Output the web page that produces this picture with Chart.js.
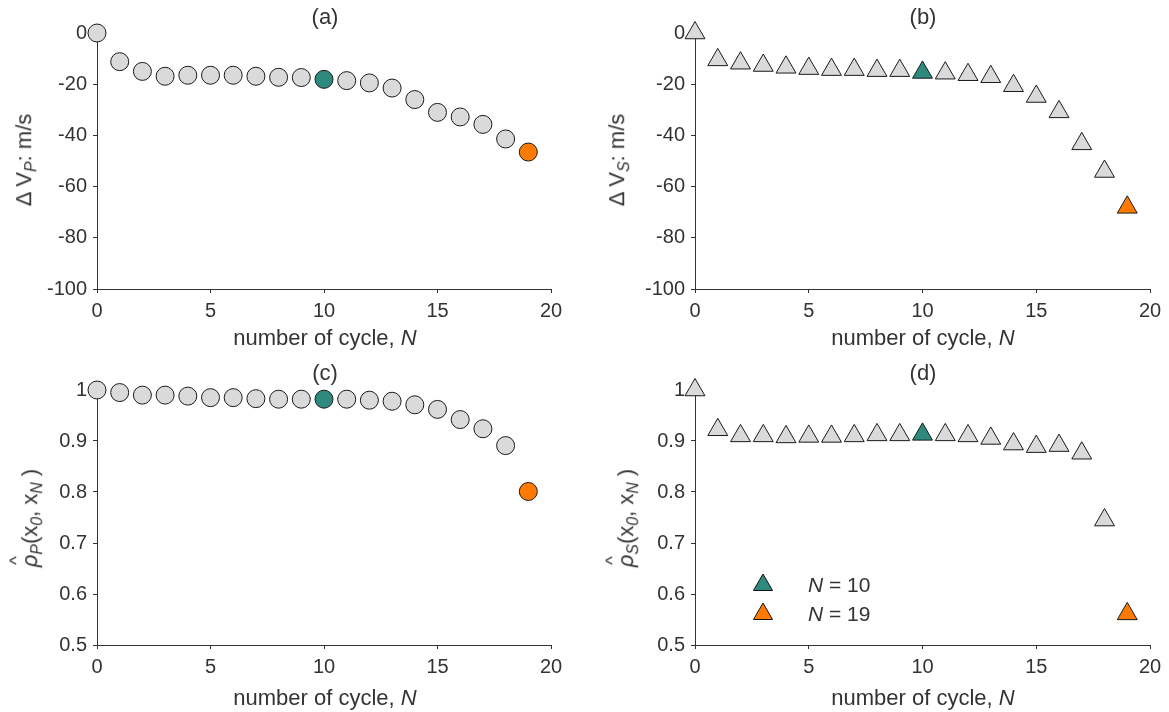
<!DOCTYPE html>
<html>
<head>
<meta charset="utf-8">
<script src="https://cdn.jsdelivr.net/npm/chart.js@4.4.1/dist/chart.umd.min.js"></script>
<style>
  body { margin: 0; background: #fff; }
  #wrap { position: relative; width: 1169px; height: 712px; background: #fff; overflow: hidden;
          font-family: "Liberation Sans", Arial, sans-serif; color: #333; }
  .panel { position: absolute; }
  .txt { position: absolute; white-space: nowrap; transform: translate(-50%, -50%); font-size: 22px; line-height: 1; }
  .ytitle { position: absolute; white-space: nowrap; transform: translate(-50%, -50%) rotate(-90deg); font-size: 22px; line-height: 1; }
  sub { font-size: 0.72em; vertical-align: -0.3em; }
  .rho { position: relative; display: inline-block; font-style: italic; }
  .rho .hat { position: absolute; left: 0.12em; top: -0.62em; font-style: normal; font-size: 0.85em; }
</style>
</head>
<body>
<div id="wrap">
  <div class="panel" style="left:0;top:0"><canvas id="chartA" width="580" height="355"></canvas></div>
  <div class="panel" style="left:580px;top:0"><canvas id="chartB" width="589" height="355"></canvas></div>
  <div class="panel" style="left:0;top:355px"><canvas id="chartC" width="580" height="357"></canvas></div>
  <div class="panel" style="left:580px;top:355px"><canvas id="chartD" width="589" height="357"></canvas></div>

  <div class="txt" style="left:325px;top:17px">(a)</div>
  <div class="txt" style="left:923px;top:17px">(b)</div>
  <div class="txt" style="left:325px;top:373px">(c)</div>
  <div class="txt" style="left:923px;top:373px">(d)</div>

  <div class="txt" style="left:325px;top:338px">number of cycle, <i>N</i></div>
  <div class="txt" style="left:923px;top:338px">number of cycle, <i>N</i></div>
  <div class="txt" style="left:325px;top:698px">number of cycle, <i>N</i></div>
  <div class="txt" style="left:923px;top:698px">number of cycle, <i>N</i></div>

  <div class="ytitle" style="left:26px;top:160px">Δ V<sub><i>P</i></sub>: m/s</div>
  <div class="ytitle" style="left:619px;top:160px">Δ V<sub><i>S</i></sub>: m/s</div>
  <div class="ytitle" style="left:32px;top:518px"><span class="rho">ρ<span class="hat">^</span></span><sub><i>P</i></sub>(x<sub><i>0</i></sub>, x<sub><i>N</i></sub> )</div>
  <div class="ytitle" style="left:628px;top:518px"><span class="rho">ρ<span class="hat">^</span></span><sub><i>S</i></sub>(x<sub><i>0</i></sub>, x<sub><i>N</i></sub> )</div>
</div>

<script>
// number of cycle N
const cycles = [0, 1, 2, 3, 4, 5, 6, 7, 8, 9, 10, 11, 12, 13, 14, 15, 16, 17, 18, 19];

// (a) change of P-wave velocity, m/s
const dVp = [0, -11.2, -15.0, -16.9, -16.5, -16.5, -16.5, -16.9, -17.3, -17.4,
             -18.1, -18.6, -19.5, -21.5, -26.0, -31.0, -32.8, -35.7, -41.4, -46.5];
// (b) change of S-wave velocity, m/s
const dVs = [0, -10.5, -11.8, -12.7, -13.4, -13.9, -14.3, -14.3, -14.7, -14.7,
             -15.4, -15.7, -16.3, -17.1, -20.6, -24.8, -30.8, -43.3, -54.1, -68.1];
// (c) correlation coefficient, P wave
const rhoP = [1.0, 0.995, 0.99, 0.99, 0.988, 0.985, 0.985, 0.983, 0.982, 0.982,
              0.982, 0.982, 0.98, 0.978, 0.971, 0.962, 0.942, 0.924, 0.891, 0.801];
// (d) correlation coefficient, S wave
const rhoS = [1.0, 0.922, 0.910, 0.910, 0.908, 0.909, 0.909, 0.910, 0.912, 0.912,
              0.913, 0.912, 0.910, 0.905, 0.894, 0.889, 0.891, 0.876, 0.745, 0.561];

// highlighted cycles and legend labels
const highlightN = [10, 19];
const legendLabels = ['10', '19'];

// tick labels
const xTicks = [0, 5, 10, 15, 20];
const yTicksDV = [-100, -80, -60, -40, -20, 0];
const yTicksRho = [0.5, 0.6, 0.7, 0.8, 0.9, 1];

const GREY = '#dadada';
const TEAL = '#2f8a7e';
const ORANGE = '#ff7a00';
const highlightColors = [TEAL, ORANGE];
const AXIS = '#333333';
const FONT = "'Liberation Sans', Arial, sans-serif";

function pointColors() {
    return cycles.map(n => {
        const k = highlightN.indexOf(n);
        return k >= 0 ? highlightColors[k] : GREY;
    });
}

// legend drawn inside panel (d)
const triangleLegend = {
    id: 'triangleLegend',
    afterDatasetsDraw(chart) {
        const ctx = chart.ctx;
        const rows = [{ y: 230 }, { y: 259 }];
        ctx.save();
        rows.forEach((row, i) => {
            const x = 183, y = row.y, r = 11;
            ctx.beginPath();
            ctx.moveTo(x, y - r);
            ctx.lineTo(x + 0.866 * r, y + 0.5 * r);
            ctx.lineTo(x - 0.866 * r, y + 0.5 * r);
            ctx.closePath();
            ctx.fillStyle = highlightColors[i];
            ctx.fill();
            ctx.lineWidth = 1;
            ctx.strokeStyle = '#111';
            ctx.stroke();

            ctx.fillStyle = AXIS;
            ctx.textBaseline = 'middle';
            ctx.font = 'italic 21px ' + FONT;
            ctx.fillText('N', 228, y + 1);
            const w = ctx.measureText('N').width;
            ctx.font = '21px ' + FONT;
            ctx.fillText(' = ' + legendLabels[i], 228 + w, y + 1);
        });
        ctx.restore();
    }
};

function makePanel(id, values, yTicks, style, radius, box, extraPlugins) {
    return new Chart(document.getElementById(id), {
        type: 'scatter',
        data: {
            datasets: [{
                data: cycles.map((n, i) => ({ x: n, y: values[i] })),
                pointStyle: style,
                pointRadius: radius,
                pointHoverRadius: radius,
                pointBackgroundColor: pointColors(),
                pointBorderColor: '#1a1a1a',
                pointBorderWidth: 1,
                clip: false
            }]
        },
        options: {
            responsive: false,
            animation: false,
            events: [],
            layout: { padding: { left: 0, top: box.top, right: box.right, bottom: 0 } },
            plugins: { legend: { display: false }, tooltip: { enabled: false } },
            scales: {
                x: {
                    type: 'linear',
                    min: xTicks[0],
                    max: xTicks[xTicks.length - 1],
                    afterBuildTicks: s => { s.ticks = xTicks.map(v => ({ value: v })); },
                    afterFit: s => { s.height = box.xh; },
                    ticks: { color: AXIS, font: { family: FONT, size: 20 }, padding: 6, maxRotation: 0 },
                    grid: { drawOnChartArea: false, tickLength: 4, tickColor: AXIS },
                    border: { color: AXIS, width: 1 }
                },
                y: {
                    type: 'linear',
                    min: yTicks[0],
                    max: yTicks[yTicks.length - 1],
                    afterBuildTicks: s => { s.ticks = yTicks.map(v => ({ value: v })); },
                    afterFit: s => { s.width = box.left; },
                    ticks: {
                        color: AXIS, font: { family: FONT, size: 20 }, padding: 6,
                        callback: v => String(+Number(v).toFixed(2))
                    },
                    grid: { drawOnChartArea: false, tickLength: 4, tickColor: AXIS },
                    border: { color: AXIS, width: 1 }
                }
            }
        },
        plugins: extraPlugins || []
    });
}

makePanel('chartA', dVp, yTicksDV, 'circle', 9, { left: 97, right: 29, top: 33, xh: 66 });
makePanel('chartB', dVs, yTicksDV, 'triangle', 11.5, { left: 115, right: 19, top: 33, xh: 66 });
makePanel('chartC', rhoP, yTicksRho, 'circle', 9, { left: 97, right: 29, top: 35, xh: 67 });
makePanel('chartD', rhoS, yTicksRho, 'triangle', 11.5, { left: 115, right: 19, top: 35, xh: 67 }, [triangleLegend]);
</script>
</body>
</html>
